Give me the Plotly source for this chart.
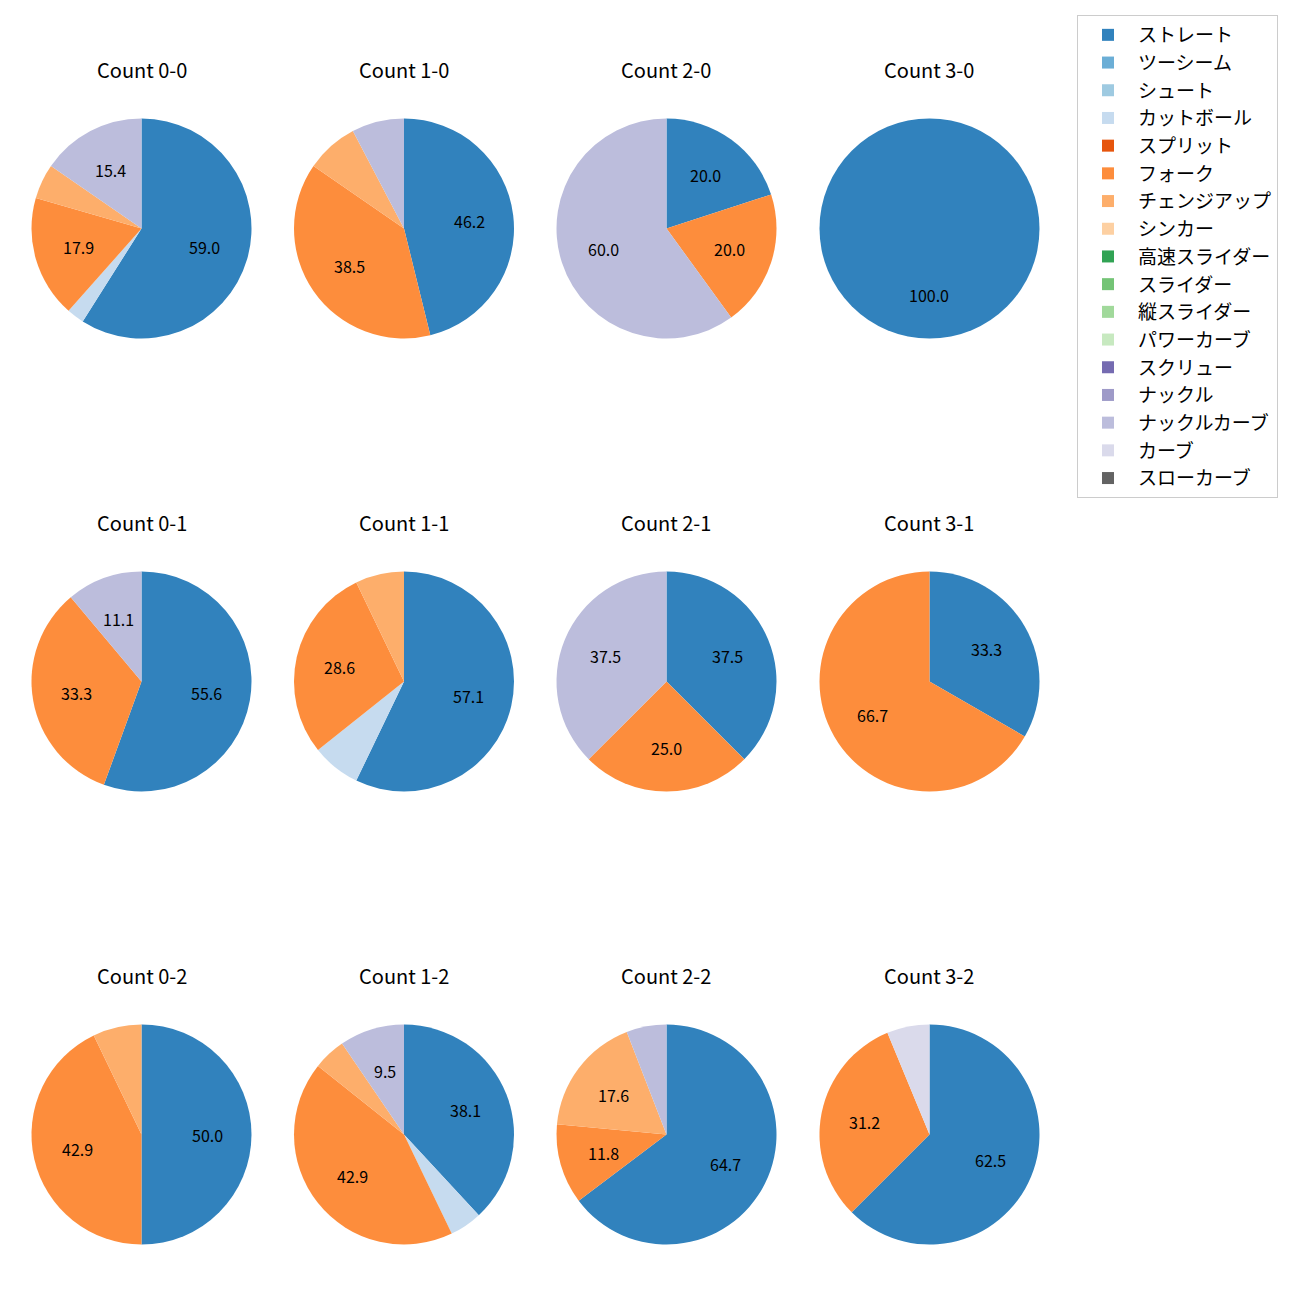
import math
import plotly.graph_objects as go

# ---- data ----
pitch_types = ["ストレート", "ツーシーム", "シュート", "カットボール", "スプリット", "フォーク",
               "チェンジアップ", "シンカー", "高速スライダー", "スライダー", "縦スライダー",
               "パワーカーブ", "スクリュー", "ナックル", "ナックルカーブ", "カーブ", "スローカーブ"]
pitch_colors = ["#3182bd", "#6baed6", "#9ecae1", "#c6dbef", "#e6550d", "#fd8d3c", "#fdae6b",
                "#fdd0a2", "#31a354", "#74c476", "#a1d99b", "#c7e9c0", "#756bb1", "#9e9ac8",
                "#bcbddc", "#dadaeb", "#636363"]

count_labels = ["0-0", "1-0", "2-0", "3-0",
                "0-1", "1-1", "2-1", "3-1",
                "0-2", "1-2", "2-2", "3-2"]

# pitch counts per ball-strike count, in pitch_types order
c_0_0 = [23, 0, 0, 1, 0, 7, 2, 0, 0, 0, 0, 0, 0, 0, 6, 0, 0]
c_1_0 = [6, 0, 0, 0, 0, 5, 1, 0, 0, 0, 0, 0, 0, 0, 1, 0, 0]
c_2_0 = [1, 0, 0, 0, 0, 1, 0, 0, 0, 0, 0, 0, 0, 0, 3, 0, 0]
c_3_0 = [1, 0, 0, 0, 0, 0, 0, 0, 0, 0, 0, 0, 0, 0, 0, 0, 0]
c_0_1 = [5, 0, 0, 0, 0, 3, 0, 0, 0, 0, 0, 0, 0, 0, 1, 0, 0]
c_1_1 = [8, 0, 0, 1, 0, 4, 1, 0, 0, 0, 0, 0, 0, 0, 0, 0, 0]
c_2_1 = [3, 0, 0, 0, 0, 2, 0, 0, 0, 0, 0, 0, 0, 0, 3, 0, 0]
c_3_1 = [1, 0, 0, 0, 0, 2, 0, 0, 0, 0, 0, 0, 0, 0, 0, 0, 0]
c_0_2 = [7, 0, 0, 0, 0, 6, 1, 0, 0, 0, 0, 0, 0, 0, 0, 0, 0]
c_1_2 = [8, 0, 0, 1, 0, 9, 1, 0, 0, 0, 0, 0, 0, 0, 2, 0, 0]
c_2_2 = [11, 0, 0, 0, 0, 2, 3, 0, 0, 0, 0, 0, 0, 0, 1, 0, 0]
c_3_2 = [10, 0, 0, 0, 0, 5, 0, 0, 0, 0, 0, 0, 0, 0, 0, 1, 0]

count_values = [c_0_0, c_1_0, c_2_0, c_3_0,
                c_0_1, c_1_1, c_2_1, c_3_1,
                c_0_2, c_1_2, c_2_2, c_3_2]

# ---- layout geometry (pixels, relative to the plotly div) ----
W = H = 1300
col_cx = [133.5, 396.0, 658.5, 921.5]
row_cy = [220.5, 673.5, 1126.5]
R = 110.0
title_offset = 159.5
FONT = "Noto Sans CJK JP, Noto Sans, sans-serif"
min_pct_label = 9.0

fig = go.Figure()
annotations = []

for idx, (lab, vals) in enumerate(zip(count_labels, count_values)):
    r, c = divmod(idx, 4)
    cx, cy = col_cx[c], row_cy[r]
    fig.add_trace(go.Pie(
        labels=pitch_types,
        values=vals,
        marker=dict(colors=pitch_colors, line=dict(width=0)),
        sort=False,
        direction="clockwise",
        rotation=0,
        textinfo="none",
        hoverinfo="label+percent",
        showlegend=(idx == 0),
        domain=dict(x=[(cx - R) / W, (cx + R) / W],
                    y=[1 - (cy + R) / H, 1 - (cy - R) / H]),
    ))
    annotations.append(dict(
        x=cx / W, y=1 - (cy - title_offset) / H, xref="paper", yref="paper",
        text=f"Count {lab}", showarrow=False, xanchor="center", yanchor="middle",
        font=dict(family=FONT, size=20, color="black")))
    total = sum(vals)
    cum = 0.0
    for v in vals:
        if v <= 0:
            continue
        frac = v / total
        pct = frac * 100
        mid = math.radians(90 - 360 * (cum + frac / 2))
        cum += frac
        if pct < min_pct_label:
            continue
        tx = cx + 0.6 * R * math.cos(mid)
        ty = cy - 0.6 * R * math.sin(mid)
        annotations.append(dict(
            x=tx / W, y=1 - ty / H, xref="paper", yref="paper",
            text=f"{pct:.1f}", showarrow=False, xanchor="center", yanchor="middle",
            font=dict(family=FONT, size=16, color="black")))

fig.update_layout(
    width=W, height=H,
    margin=dict(l=0, r=0, t=0, b=0),
    paper_bgcolor="white",
    plot_bgcolor="white",
    annotations=annotations,
    legend=dict(
        x=1069 / W, y=1 - 7 / H, xanchor="left", yanchor="top",
        bordercolor="#cccccc", borderwidth=1, bgcolor="white",
        font=dict(family=FONT, size=19, color="black"),
        itemwidth=50,
        traceorder="normal",
    ),
)

fig.write_html("out.html")
